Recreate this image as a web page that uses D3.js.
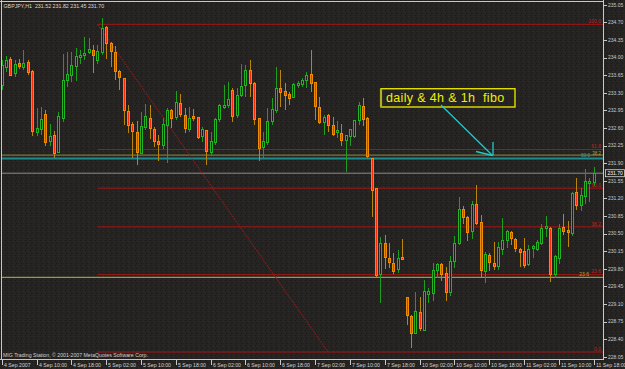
<!DOCTYPE html>
<html><head><meta charset="utf-8">
<script src="https://cdn.jsdelivr.net/npm/d3@7"></script>
<style>html,body{margin:0;padding:0;background:#222120;overflow:hidden}</style>
</head><body><svg id="c" width="625" height="369"></svg>
<script>
// ---------------- DATA ----------------
const symbolTitle = "GBPJPY,H1  231.52 231.82 231.45 231.70";
const copyright = "MIG Trading Station, \u00a9 2001-2007 MetaQuotes Software Corp.";
const noteText = "daily & 4h & 1h  fibo";

const open = [233.45,233.80,233.97,233.68,233.88,233.80,233.90,233.73,232.51,232.56,
232.87,232.33,232.44,232.11,232.79,233.55,233.64,233.82,234.00,234.04,
234.10,234.13,233.94,234.10,234.60,234.28,234.10,233.73,233.59,232.92,
232.67,232.51,232.10,232.60,232.79,232.56,232.34,232.25,232.64,232.94,
232.80,233.09,232.84,232.56,232.82,232.81,232.43,232.54,232.12,232.31,
232.77,233.00,233.04,233.35,232.84,233.24,233.44,233.75,233.49,232.78,
232.21,232.31,232.72,232.94,233.39,233.33,233.27,233.20,233.44,233.47,
233.54,233.67,233.51,233.01,232.70,232.84,232.64,232.50,232.48,232.36,
232.43,232.43,232.74,233.02,232.79,231.99,231.39,229.68,230.31,230.01,
229.91,229.78,230.03,229.23,228.86,228.52,228.94,228.58,229.29,229.31,
229.76,229.89,229.71,229.33,229.95,230.31,230.97,230.81,230.54,231.07,
230.72,229.74,230.06,229.91,229.84,230.19,230.37,230.52,230.39,230.19,
230.14,229.89,230.21,230.19,230.31,230.60,230.60,229.69,230.01,230.62,
230.57,230.50,231.32,231.05,231.23,231.50,231.52];
const high = [233.95,234.04,234.02,233.95,233.98,234.15,233.95,233.75,233.00,233.02,
232.96,232.67,232.53,232.92,234.06,234.10,234.10,234.18,234.15,234.41,
234.38,234.25,234.25,234.78,234.63,234.31,234.23,233.75,233.60,233.06,
232.72,232.74,232.91,233.07,233.06,232.62,232.46,232.79,232.99,232.97,
233.33,233.27,233.00,233.02,232.98,232.82,232.62,232.56,232.51,232.79,
233.07,233.45,233.52,233.39,233.40,233.88,233.86,233.95,233.51,232.79,
232.51,232.99,233.19,233.82,233.75,233.49,233.32,233.49,233.53,233.59,
233.72,234.15,233.52,233.22,232.86,232.87,232.82,232.74,232.67,232.46,
232.58,232.76,233.12,233.19,232.82,232.01,231.40,230.44,230.47,230.31,
230.11,230.17,230.39,229.24,228.89,229.34,229.24,229.58,229.41,229.91,
229.91,229.91,229.84,230.06,230.46,231.22,231.05,230.85,231.15,231.47,
230.87,230.13,230.11,230.33,230.33,230.80,230.57,230.55,230.42,230.21,
230.42,230.27,230.27,230.37,230.70,230.85,230.64,230.07,230.70,230.88,
230.75,231.33,231.61,231.40,231.78,231.60,231.82];
const low = [233.35,233.72,233.64,233.62,233.77,233.75,233.65,232.43,232.43,232.46,
232.24,232.25,232.00,232.10,232.72,233.42,233.52,233.54,233.88,233.95,
234.06,233.69,233.88,234.05,233.98,233.82,233.55,233.35,232.66,232.49,
232.01,231.86,232.08,232.56,232.38,232.23,231.94,232.18,231.90,232.60,
232.76,232.82,232.49,232.51,232.74,232.38,232.33,231.86,232.05,232.26,
232.72,232.98,232.99,232.72,232.79,233.22,233.22,233.22,232.66,231.94,
232.00,232.26,232.66,232.89,233.02,232.96,233.06,233.19,233.40,233.42,
233.39,233.32,232.76,232.67,232.45,232.51,232.43,232.40,232.25,231.73,
232.25,232.39,232.66,232.64,232.00,230.83,229.64,229.11,229.80,229.81,
229.69,229.71,229.97,228.68,228.22,228.50,228.57,228.57,229.11,229.16,
229.61,229.56,229.16,229.26,229.82,230.27,230.70,230.35,230.39,230.67,
229.64,229.51,229.76,229.78,229.78,230.07,230.22,230.27,230.13,229.84,
229.82,229.86,230.01,230.15,230.27,230.44,229.53,229.61,229.89,230.47,
230.24,230.46,230.97,230.95,231.08,231.12,231.45];
const close = [233.85,233.95,233.65,233.86,233.82,233.88,233.70,232.53,232.59,232.77,
232.31,232.42,232.10,232.82,233.55,233.67,233.84,234.03,234.04,234.08,
234.15,234.05,234.12,234.58,234.28,234.12,233.73,233.60,232.94,232.64,
232.53,232.12,232.62,232.82,232.58,232.34,232.27,232.66,232.94,232.79,
233.11,232.86,232.58,232.79,232.78,232.41,232.56,232.14,232.34,232.76,
233.04,233.04,233.16,232.82,233.25,233.42,233.75,233.49,232.76,232.19,
232.34,232.72,232.96,233.39,233.30,233.24,233.19,233.47,233.49,233.54,
233.65,233.49,233.02,232.70,232.80,232.64,232.47,232.54,232.35,232.44,
232.56,232.74,233.04,232.77,232.03,231.35,229.66,230.31,230.02,229.93,
229.74,230.00,229.98,228.88,228.52,228.95,228.62,229.34,229.34,229.76,
229.88,229.68,229.33,229.94,230.31,230.97,230.81,230.52,231.08,230.70,
229.76,230.09,229.93,229.85,230.22,230.37,230.55,230.40,230.21,230.13,
229.86,230.19,230.24,230.33,230.60,230.64,229.69,230.04,230.60,230.54,
230.52,231.30,231.05,231.25,231.54,231.54,231.70];

const xTickLabels = ["4 Sep 2007","4 Sep 10:00","4 Sep 18:00","5 Sep 02:00","5 Sep 10:00","5 Sep 18:00",
"6 Sep 02:00","6 Sep 10:00","6 Sep 18:00","7 Sep 02:00","7 Sep 10:00","7 Sep 18:00",
"10 Sep 02:00","10 Sep 10:00","10 Sep 18:00","11 Sep 02:00","11 Sep 10:00","11 Sep 18:00"];
const barsPerXTick = 8;
const yTickValues = [235.05,234.70,234.35,234.00,233.65,233.30,232.95,232.60,232.25,231.90,
231.55,231.20,230.85,230.50,230.15,229.80,229.45,229.10,228.75,228.40,228.05];
const lastPrice = 231.70;

// fibo retracement (anchors in bar index / price)
const fiboStartBar = 22, fiboEndBar = 75;
const fiboHigh = 234.66, fiboLow = 228.145;
const fiboLevels = [0, 23.6, 38.2, 50.0, 61.8, 100.0];
// other fibo level lines from higher timeframes
const olive4hLevel = 232.06;
const tealDailyLevel = 231.99;
const yellowLevel = 229.63;

// ---------------- DRAW ----------------
const W = 625, H = 369;
const plot = {l: 1.5, r: 603.5, t: 1.5, b: 359.5};
const svg = d3.select("#c");
const defs = svg.append("defs");
const pat = defs.append("pattern").attr("id","tex").attr("width",5).attr("height",5)
  .attr("patternUnits","userSpaceOnUse");
pat.append("rect").attr("width",5).attr("height",5).attr("fill","#252422");
[[0,0,"#191817"],[3,1,"#302d28"],[1,3,"#1b1a19"],[4,4,"#2c2724"],[2,2,"#1f1e1d"]].forEach(d=>{
  pat.append("rect").attr("x",d[0]).attr("y",d[1]).attr("width",1).attr("height",1).attr("fill",d[2]);
});
svg.append("rect").attr("width",W).attr("height",H).attr("fill","url(#tex)");

const x = d3.scaleLinear().domain([0, 136]).range([1.7, 593.7]);
const y = d3.scaleLinear().domain([228.05, 235.05]).range([356.8, 4.7]);
const font = "'Liberation Sans', Arial, sans-serif";

const g = svg.append("g");

function hline(v, color, w, x0) {
  g.append("line").attr("x1", x0 == null ? plot.l : x0).attr("x2", plot.r)
    .attr("y1", y(v)).attr("y2", y(v)).attr("stroke", color).attr("stroke-width", w);
}
hline(olive4hLevel, "#8f8f3a", 1);
hline(tealDailyLevel, "#1d8a8c", 2);
hline(yellowLevel, "#b8b83a", 1);
hline(lastPrice, "#8c8c8c", 1);

// fibo
const fx0 = x(fiboStartBar);
fiboLevels.forEach(l => {
  const v = fiboLow + (fiboHigh - fiboLow) * l / 100;
  hline(v, "#a61616", 1, fx0);
  g.append("text").attr("x", 601).attr("y", y(v) - 1.2).attr("text-anchor","end")
    .attr("font-family", font).attr("font-size", 5).attr("fill", "#c02020").text(l.toFixed(1));
});
// extra small labels for other-timeframe levels (placed beside, not on top)
g.append("text").attr("x",601).attr("y", y(olive4hLevel)+0.2).attr("text-anchor","end")
  .attr("font-family",font).attr("font-size",4.5).attr("fill","#b0a040").text("38.2");
g.append("text").attr("x",590).attr("y", y(tealDailyLevel)-1.3).attr("text-anchor","end")
  .attr("font-family",font).attr("font-size",4.5).attr("fill","#40a0a0").text("50.0");
g.append("text").attr("x",589).attr("y", y(yellowLevel)-1.5).attr("text-anchor","end")
  .attr("font-family",font).attr("font-size",5).attr("fill","#c8a030").text("23.6");

g.append("line").attr("x1", x(fiboStartBar)).attr("y1", y(fiboHigh))
  .attr("x2", x(fiboEndBar)).attr("y2", y(fiboLow))
  .attr("stroke", "#9a1a1a").attr("stroke-width", 1).attr("stroke-dasharray", "2,1");

// candles
const idx = d3.range(open.length);
const cg = svg.append("g").attr("shape-rendering","crispEdges");
cg.selectAll("line.w").data(idx).join("line")
  .attr("x1", i => Math.round(x(i)) + 0.5).attr("x2", i => Math.round(x(i)) + 0.5)
  .attr("y1", i => y(high[i])).attr("y2", i => y(low[i]))
  .attr("stroke", i => close[i] >= open[i] ? "#1e9e1e" : "#b8860b").attr("stroke-width", 1);
cg.selectAll("rect.b").data(idx).join("rect")
  .attr("x", i => Math.round(x(i)) - 0.5).attr("width", 2)
  .attr("y", i => y(Math.max(open[i], close[i])))
  .attr("height", i => Math.max(0.6, Math.abs(y(open[i]) - y(close[i]))))
  .attr("fill", i => close[i] >= open[i] ? "#1c1c1a" : "#ff2a00")
  .attr("stroke", i => close[i] >= open[i] ? "#22b422" : "#f08c00").attr("stroke-width", 1);

// frame
const fr = svg.append("g").attr("shape-rendering","crispEdges");
fr.append("line").attr("x1",0).attr("x2",plot.r).attr("y1",1.5).attr("y2",1.5).attr("stroke","#c8c8c8");
fr.append("line").attr("x1",1.5).attr("x2",1.5).attr("y1",0).attr("y2",plot.b).attr("stroke","#c8c8c8");
fr.append("line").attr("x1",plot.r).attr("x2",plot.r).attr("y1",0).attr("y2",plot.b).attr("stroke","#c8c8c8");
fr.append("line").attr("x1",0).attr("x2",plot.r).attr("y1",plot.b).attr("y2",plot.b).attr("stroke","#c8c8c8");

// x axis
xTickLabels.forEach((t, k) => {
  const xp = Math.round(x(k * barsPerXTick)) + 0.5;
  fr.append("line").attr("x1", xp).attr("x2", xp).attr("y1", plot.b).attr("y2", plot.b + 5)
    .attr("stroke", "#c8c8c8");
  svg.append("text").attr("x", xp + 1.5).attr("y", 366.5).attr("font-family", font)
    .attr("font-size", 5.2).attr("fill", "#d0d0d0").text(t);
});
// y axis
yTickValues.forEach(v => {
  fr.append("line").attr("x1", plot.r).attr("x2", plot.r + 3).attr("y1", Math.round(y(v)) + 0.5)
    .attr("y2", Math.round(y(v)) + 0.5).attr("stroke", "#c8c8c8");
  svg.append("text").attr("x", 608).attr("y", y(v) + 1.8).attr("font-family", font)
    .attr("font-size", 5).attr("fill", "#c8c8c8").text(v.toFixed(2));
});
svg.append("rect").attr("x", 605.5).attr("y", y(lastPrice) - 3.5).attr("width", 19).attr("height", 7)
  .attr("fill", "#202020").attr("stroke", "#d8d8d8").attr("stroke-width", 0.8);
svg.append("text").attr("x", 607.5).attr("y", y(lastPrice) + 1.9).attr("font-family", font)
  .attr("font-size", 5).attr("fill", "#ffffff").text(lastPrice.toFixed(2));

// titles
svg.append("text").attr("x", 3.5).attr("y", 8.3).attr("font-family", font).attr("font-size", 5.3)
  .attr("fill", "#d8d8d8").style("white-space","pre").text(symbolTitle);
svg.append("text").attr("x", 3).attr("y", 356.8).attr("font-family", font).attr("font-size", 5.2)
  .attr("fill", "#d0d0d0").text(copyright);

// note box + arrow
svg.append("rect").attr("x", 381).attr("y", 88.7).attr("width", 134).attr("height", 18.3)
  .attr("fill", "none").attr("stroke", "#e0e000").attr("stroke-width", 1.4);
svg.append("line").attr("x1", 381).attr("x2", 381).attr("y1", 89).attr("y2", 107)
  .attr("stroke", "#b0b020").attr("stroke-width", 2.2);
svg.append("text").attr("x", 386).attr("y", 102).attr("font-family", font).attr("font-size", 12.5)
  .attr("letter-spacing", 0.35).attr("fill", "#f0f000").style("white-space","pre").text(noteText);
const ar = svg.append("g").attr("stroke", "#22c8cc").attr("stroke-width", 1.3).attr("fill","none");
ar.append("line").attr("x1", 441).attr("y1", 105).attr("x2", 492.5).attr("y2", 155.5);
ar.append("line").attr("x1", 476).attr("y1", 151.5).attr("x2", 492.5).attr("y2", 155.5);
ar.append("line").attr("x1", 493).attr("y1", 142).attr("x2", 493).attr("y2", 155.5);
</script></body></html>
